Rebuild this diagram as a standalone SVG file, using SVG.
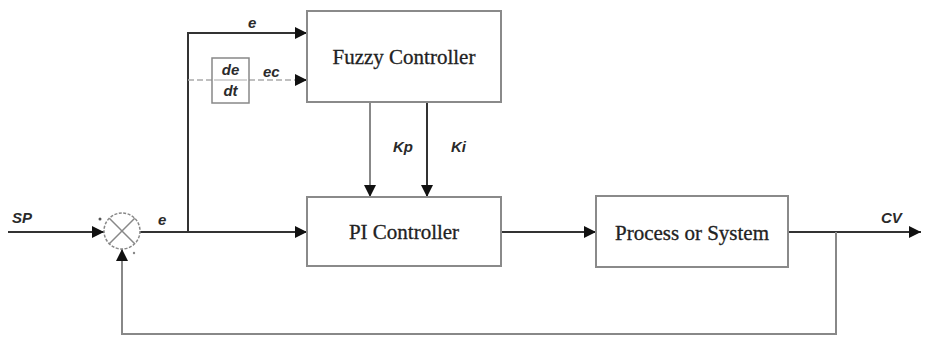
<svg xmlns="http://www.w3.org/2000/svg" width="928" height="338" viewBox="0 0 928 338">
  <defs>
    <marker id="arrow" viewBox="0 0 10 10" refX="10" refY="5" markerWidth="13" markerHeight="12" markerUnits="userSpaceOnUse" orient="auto">
      <path d="M0,0 L10,5 L0,10 Z" fill="#111"/>
    </marker>
    <style>
      .box { fill: #fff; stroke: #8a8a8a; stroke-width: 2; }
      .title { font-family: "Liberation Serif", serif; font-size: 21px; fill: #222; text-anchor: middle; stroke: #222; stroke-width: 0.3; }
      .sig { font-family: "Liberation Sans", Arial, sans-serif; font-size: 15px; font-style: italic; font-weight: bold; fill: #2a2a2a; }
      .wire { fill: none; stroke: #333; stroke-width: 2; }
      .wire-light { fill: none; stroke: #888; stroke-width: 2; }
      .wire-dash { fill: none; stroke: #aaa; stroke-width: 1.5; stroke-dasharray: 6 3; }
    </style>
  </defs>
  <rect width="928" height="338" fill="#fff"/>

  <!-- signal paths -->
  <g id="connectors">
    <!-- set point into the summing junction -->
    <line class="wire" x1="8" y1="232" x2="104" y2="232" marker-end="url(#arrow)"/>
    <!-- error to PI controller -->
    <line class="wire" x1="140" y1="232" x2="307" y2="232" marker-end="url(#arrow)"/>
    <!-- error branch up to fuzzy controller -->
    <polyline class="wire" points="188,232 188,33 307,33" marker-end="url(#arrow)"/>
    <!-- error derivative path -->
    <line class="wire-dash" x1="188" y1="80" x2="212" y2="80"/>
    <line class="wire-dash" x1="249" y1="80" x2="296" y2="80"/>
    <line class="wire" x1="296" y1="80" x2="307" y2="80" marker-end="url(#arrow)"/>
    <!-- gains from fuzzy controller -->
    <line class="wire-light" x1="370" y1="102" x2="370" y2="197" marker-end="url(#arrow)"/>
    <line class="wire" x1="427" y1="102" x2="427" y2="197" marker-end="url(#arrow)"/>
    <!-- PI output to process -->
    <line class="wire" x1="501" y1="232" x2="596" y2="232" marker-end="url(#arrow)"/>
    <!-- process output -->
    <line class="wire" x1="788" y1="232" x2="921" y2="232" marker-end="url(#arrow)"/>
    <!-- feedback loop -->
    <polyline class="wire-light" points="836,232 836,334 122,334 122,249" marker-end="url(#arrow)"/>
  </g>

  <!-- summing junction -->
  <g id="sum">
    <circle cx="122" cy="231" r="18" fill="#fff" stroke="#888" stroke-width="1.5" stroke-dasharray="3 1.5"/>
    <line x1="109.3" y1="218.3" x2="134.7" y2="243.7" stroke="#888" stroke-width="1.5"/>
    <line x1="134.7" y1="218.3" x2="109.3" y2="243.7" stroke="#888" stroke-width="1.5"/>
    <circle cx="100" cy="219" r="1.5" fill="#555"/>
    <circle cx="134" cy="253" r="1.2" fill="#888"/>
  </g>

  <g id="fuzzy">
    <rect class="box" x="307" y="11" width="194" height="91"/>
    <text class="title" x="404" y="64">Fuzzy Controller</text>
  </g>

  <g id="deriv">
    <rect x="212" y="58" width="37" height="45" fill="#fff" stroke="#888" stroke-width="1.5"/>
    <line x1="214" y1="80" x2="247" y2="80" stroke="#aaa" stroke-width="1"/>
    <text class="sig" x="230.5" y="75" text-anchor="middle" font-size="14">de</text>
    <text class="sig" x="230.5" y="96" text-anchor="middle" font-size="14">dt</text>
  </g>

  <g id="pi">
    <rect class="box" x="307" y="197" width="194" height="69"/>
    <text class="title" x="404" y="239">PI Controller</text>
  </g>

  <g id="process">
    <rect class="box" x="596" y="196" width="192" height="71"/>
    <text class="title" x="692" y="240">Process or System</text>
  </g>

  <!-- signal labels -->
  <g id="labels">
    <text class="sig" x="12" y="223">SP</text>
    <text class="sig" x="158" y="225">e</text>
    <text class="sig" x="248" y="28">e</text>
    <text class="sig" x="263" y="77">ec</text>
    <text class="sig" x="393" y="152">Kp</text>
    <text class="sig" x="451" y="152">Ki</text>
    <text class="sig" x="881" y="223">CV</text>
  </g>
</svg>
